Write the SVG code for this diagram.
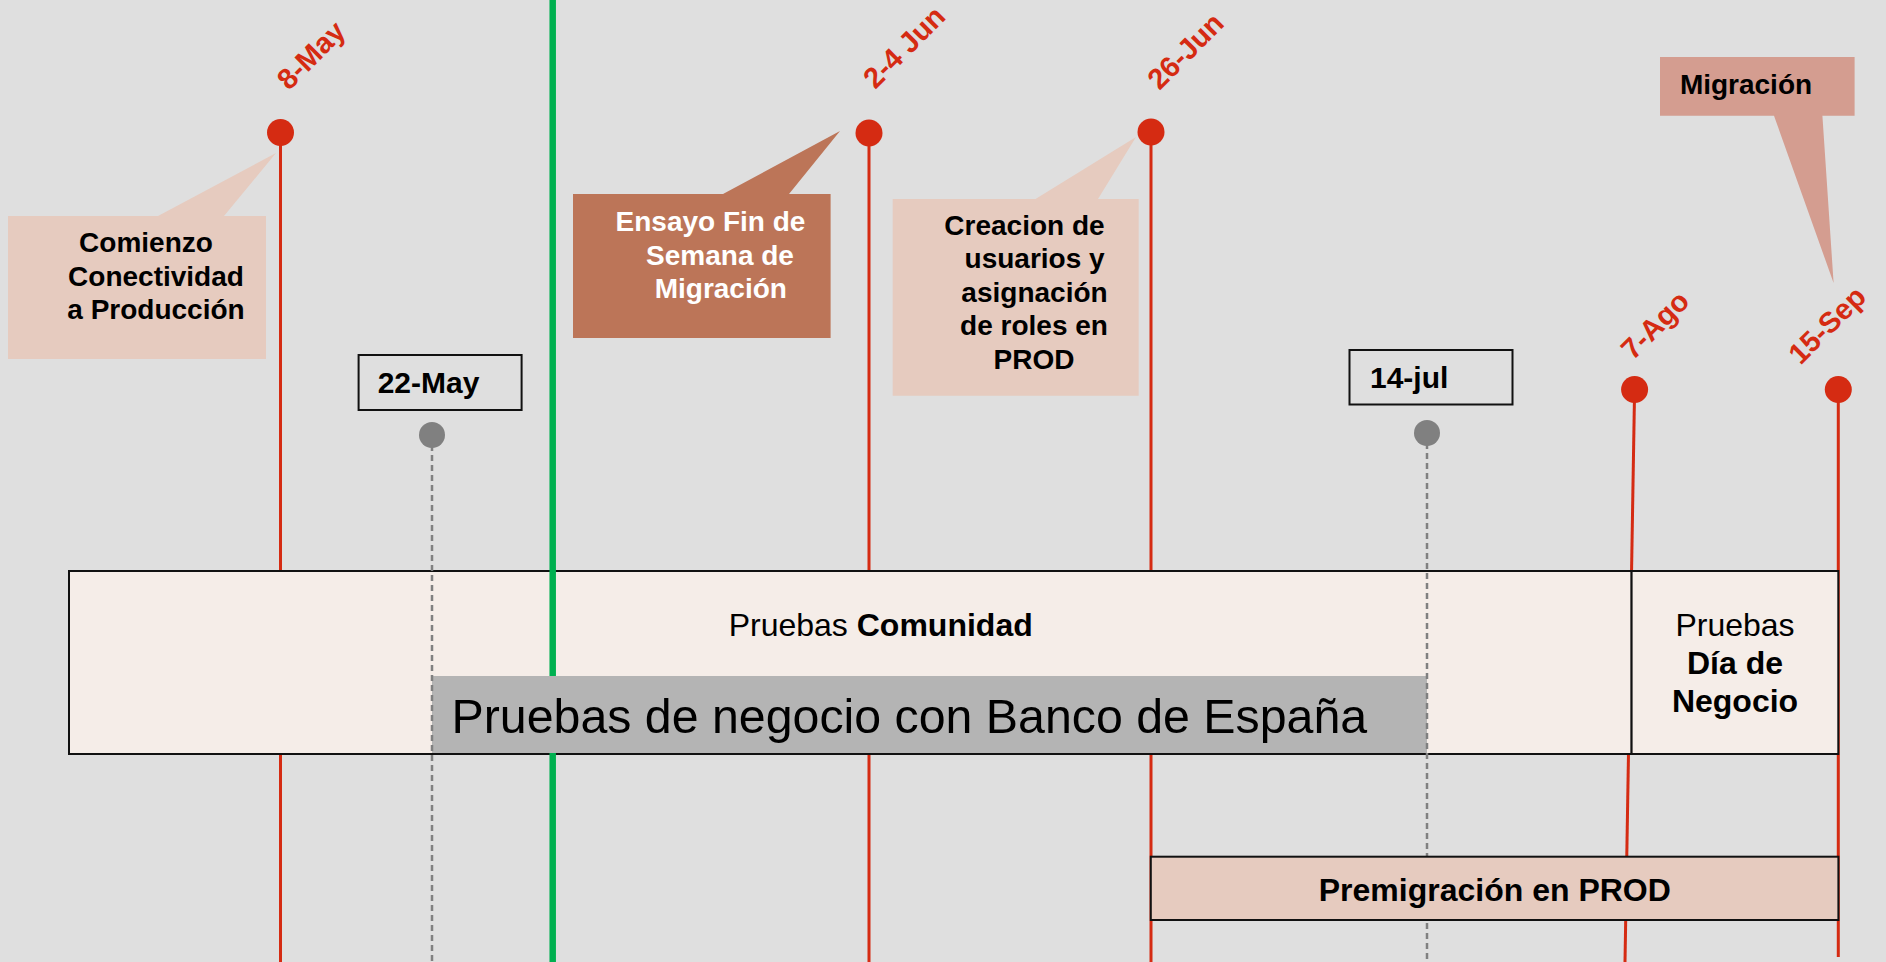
<svg xmlns="http://www.w3.org/2000/svg" width="1886" height="962" viewBox="0 0 1886 962">
<style>
  .bg{fill:#dfdfdf}
  .red{stroke:#d52b12;stroke-width:3;fill:none}
  .rdot{fill:#d52b12}
  .gdot{fill:#808080}
  .dash{stroke:#808080;stroke-width:2.5;stroke-dasharray:6 4;fill:none}
  .green{stroke:#00b050;stroke-width:6.5}
  .peach{fill:#e6cbbf}
  .brown{fill:#bc7558}
  .pink{fill:#d49d90}
  .box{fill:#f5ede8;stroke:#111;stroke-width:2}
  .pbox{fill:#e6cbbf;stroke:#111;stroke-width:2}
  .lbl{fill:none;stroke:#111;stroke-width:2}
  .grey{fill:#b4b4b4}
  text{font-family:"Liberation Sans",Arial,sans-serif}
  .b{font-weight:bold}
  .c28{font-size:28px;font-weight:bold;fill:#000;text-anchor:middle}
  .w28{font-size:28px;font-weight:bold;fill:#fff;text-anchor:middle}
  .date{font-size:29px;font-weight:bold;fill:#d52b12;text-anchor:middle}
</style>
<rect class="bg" x="0" y="0" width="1886" height="962"/>

<g id="connectors">
  <line class="red" x1="280.5" y1="132" x2="280.5" y2="962"/>
  <line class="red" x1="869" y1="133" x2="869" y2="962"/>
  <line class="red" x1="1151" y1="132" x2="1151" y2="962"/>
  <line class="red" x1="1634.6" y1="389.5" x2="1625" y2="962"/>
  <line class="red" x1="1838.3" y1="389.5" x2="1838.3" y2="957"/>
</g>

<g id="callout-comienzo">
  <polygon class="peach" points="8,216 158,216 276,153 224,216 266,216 266,359 8,359"/>
  <text class="c28" x="146" y="252">Comienzo</text>
  <text class="c28" x="156" y="286">Conectividad</text>
  <text class="c28" x="156" y="319">a Producción</text>
</g>

<g id="callout-ensayo">
  <polygon class="brown" points="573,194 723,194 840,131 789,194 830.6,194 830.6,338 573,338"/>
  <text class="w28" x="710.5" y="231">Ensayo Fin de</text>
  <text class="w28" x="720" y="265">Semana de</text>
  <text class="w28" x="720.8" y="298">Migración</text>
</g>

<g id="callout-creacion">
  <polygon class="peach" points="892.7,199 1035.5,199 1136,137 1098,199 1138.7,199 1138.7,395.7 892.7,395.7"/>
  <text class="c28" x="1024.5" y="235">Creacion de</text>
  <text class="c28" x="1034.6" y="268">usuarios y</text>
  <text class="c28" x="1034.5" y="301.7">asignación</text>
  <text class="c28" x="1034" y="335">de roles en</text>
  <text class="c28" x="1034" y="369">PROD</text>
</g>

<g id="callout-migracion">
  <polygon class="pink" points="1660,57 1854.6,57 1854.6,115.7 1822.4,115.7 1833.6,283 1774,115.7 1660,115.7"/>
  <text class="c28" x="1746" y="94">Migración</text>
</g>

<g id="pruebas-comunidad">
  <rect class="box" x="69" y="571" width="1562.6" height="183"/>
  <text x="880.7" y="636" font-size="32" text-anchor="middle" fill="#000">Pruebas <tspan class="b">Comunidad</tspan></text>
</g>

<g id="pruebas-dia-negocio">
  <rect class="box" x="1631.6" y="571" width="206.7" height="183"/>
  <text x="1735" y="636" font-size="32" text-anchor="middle" fill="#000">Pruebas</text>
  <text x="1735" y="674" font-size="32" font-weight="bold" text-anchor="middle" fill="#000">Día de</text>
  <text x="1735" y="712" font-size="32" font-weight="bold" text-anchor="middle" fill="#000">Negocio</text>
</g>

<g id="hoy">
  <line class="green" x1="552.7" y1="0" x2="552.7" y2="962"/>
</g>

<g id="pruebas-banco">
  <rect class="grey" x="432" y="676" width="995" height="77"/>
  <text x="451.5" y="733" font-size="48.3" fill="#000">Pruebas de negocio con Banco de España</text>
</g>

<g id="guides">
  <line class="dash" x1="432" y1="435" x2="432" y2="962"/>
  <line class="dash" x1="1427" y1="433" x2="1427" y2="962"/>
</g>

<g id="premigracion">
  <rect class="pbox" x="1150.8" y="856.7" width="687.6" height="63.3"/>
  <text x="1494.8" y="901" font-size="32" font-weight="bold" text-anchor="middle" fill="#000">Premigración en PROD</text>
</g>

<g id="hito-8may">
  <circle class="rdot" cx="280.5" cy="132.5" r="13.5"/>
  <text class="date" transform="translate(311,55) rotate(-45)" y="10">8-May</text>
</g>
<g id="hito-2-4jun">
  <circle class="rdot" cx="869" cy="133" r="13.5"/>
  <text class="date" transform="translate(904,47) rotate(-45)" y="10">2-4 Jun</text>
</g>
<g id="hito-26jun">
  <circle class="rdot" cx="1151" cy="132" r="13.5"/>
  <text class="date" transform="translate(1185.5,51) rotate(-45)" y="10">26-Jun</text>
</g>
<g id="hito-7ago">
  <circle class="rdot" cx="1634.6" cy="389.5" r="13.5"/>
  <text class="date" transform="translate(1655,325) rotate(-45)" y="10">7-Ago</text>
</g>
<g id="hito-15sep">
  <circle class="rdot" cx="1838.3" cy="389.5" r="13.5"/>
  <text class="date" transform="translate(1827,325) rotate(-45)" y="10">15-Sep</text>
</g>

<g id="hito-22may">
  <rect class="lbl" x="358.6" y="355" width="163" height="55"/>
  <text x="377.7" y="393" font-size="30" font-weight="bold" fill="#000">22-May</text>
  <circle class="gdot" cx="432" cy="435" r="13"/>
</g>
<g id="hito-14jul">
  <rect class="lbl" x="1349.5" y="350" width="163" height="54.5"/>
  <text x="1370" y="388" font-size="30" font-weight="bold" fill="#000">14-jul</text>
  <circle class="gdot" cx="1427" cy="433" r="13"/>
</g>
</svg>
